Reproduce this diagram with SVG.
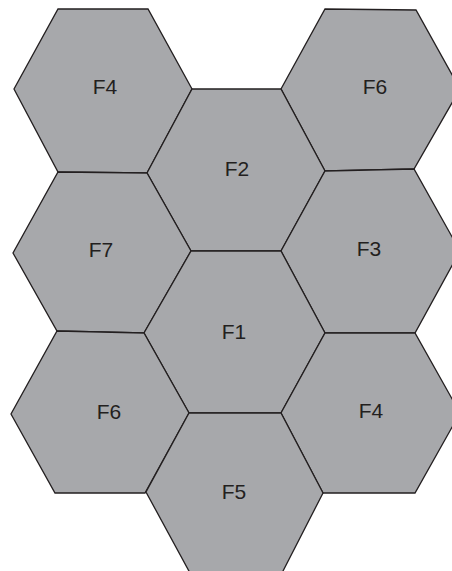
<svg xmlns="http://www.w3.org/2000/svg" width="452" height="571" viewBox="0 0 452 571">
<style>
.hex{fill:#a7a8ab;stroke:#231f20;stroke-width:1.3;stroke-linejoin:miter}
.lbl{font-family:"Liberation Sans",Arial,sans-serif;font-size:21px;fill:#231f20;text-anchor:middle}
</style>
<rect width="452" height="571" fill="#fff"/>
<g id="hex-F4-top"><polygon class="hex" points="58,9 148,9 192,89 147,173 58,172 14,89"/><text class="lbl" x="105" y="94">F4</text></g>
<g id="hex-F6-top"><polygon class="hex" points="325,9 416,10 460,89 414,169 325,171 281,89"/><text class="lbl" x="375" y="94">F6</text></g>
<g id="hex-F2"><polygon class="hex" points="192,89 281,89 325,171 281,251 191,251 147,173"/><text class="lbl" x="237" y="176">F2</text></g>
<g id="hex-F7"><polygon class="hex" points="58,172 147,173 191,251 144,333 57,331 13,253"/><text class="lbl" x="101" y="257">F7</text></g>
<g id="hex-F3"><polygon class="hex" points="325,171 414,169 460,251 415,333 325,333 281,251"/><text class="lbl" x="369" y="256">F3</text></g>
<g id="hex-F1"><polygon class="hex" points="191,251 281,251 325,333 281,413 189,413 144,333"/><text class="lbl" x="234" y="339">F1</text></g>
<g id="hex-F6-bottom"><polygon class="hex" points="57,331 144,333 189,413 145,493 55,493 11,414"/><text class="lbl" x="109" y="419">F6</text></g>
<g id="hex-F4-bottom"><polygon class="hex" points="325,333 415,333 460,413 415,493 323,493 281,413"/><text class="lbl" x="371" y="418">F4</text></g>
<g id="hex-F5"><polygon class="hex" points="189,413 281,413 323,493 282,573 190,573 146,492"/><text class="lbl" x="234" y="499">F5</text></g>
<g id="connectors"/>
</svg>
